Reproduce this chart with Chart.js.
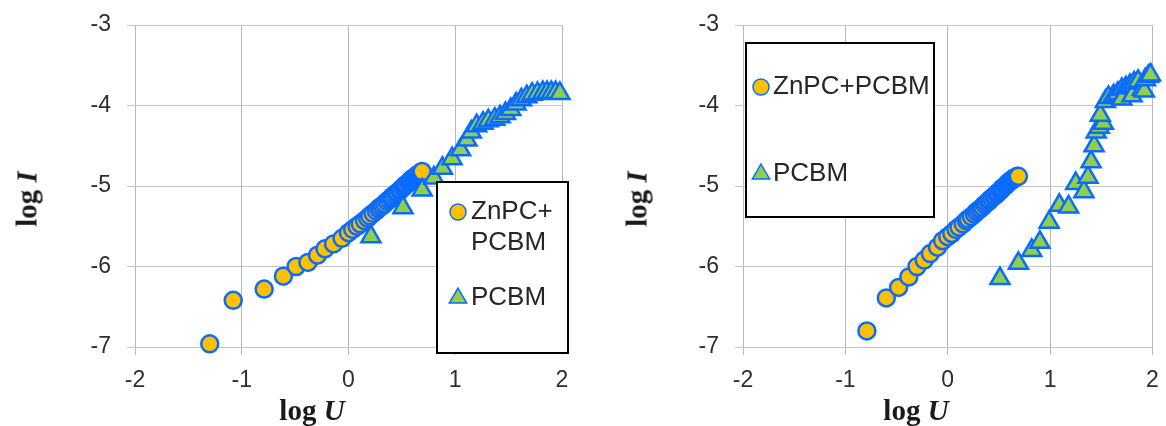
<!DOCTYPE html>
<html>
<head>
<meta charset="utf-8">
<script src="https://cdn.jsdelivr.net/npm/chart.js@4.4.0/dist/chart.umd.min.js"></script>
<style>
  body { margin: 0; background: #fff; width: 1166px; height: 426px; overflow: hidden; position: relative; }
  canvas { position: absolute; top: 0; }
  #leftChart { left: 0; }
  #rightChart { left: 583px; }
  .ttl { position: absolute; font-family: "Liberation Serif", "Times New Roman", serif; font-weight: bold;
         font-size: 29px; color: #1a1a1a; white-space: nowrap; line-height: 1; }
  .xttl { transform: translateX(-50%); }
  .yttl { transform: translate(-50%, -50%) rotate(-90deg); }
</style>
</head>
<body>
<canvas id="leftChart" width="583" height="426"></canvas>
<canvas id="rightChart" width="583" height="426"></canvas>
<div class="ttl yttl" style="left:27px; top:199px;">log <i>I</i></div>
<div class="ttl xttl" style="left:312px; top:396px;">log <i>U</i></div>
<div class="ttl yttl" style="left:637px; top:199px;">log <i>I</i></div>
<div class="ttl xttl" style="left:916px; top:396px;">log <i>U</i></div>
<script>
const seriesNames = ['ZnPC+PCBM', 'PCBM'];
const xTicks = [-2, -1, 0, 1, 2];
const yTicks = [-7, -6, -5, -4, -3];

// left panel, ZnPC+PCBM
const leftBlendU = [-1.30, -1.08, -0.79, -0.61, -0.49, -0.38, -0.29, -0.22, -0.14, -0.06, 0.00,
  0.04, 0.08, 0.11, 0.15, 0.18, 0.20, 0.23, 0.26, 0.28, 0.30, 0.32, 0.34, 0.36, 0.38, 0.40, 0.41,
  0.43, 0.45, 0.46, 0.48, 0.49, 0.51, 0.52, 0.53, 0.54, 0.56, 0.57, 0.58, 0.59, 0.60, 0.61, 0.62,
  0.63, 0.64, 0.65, 0.66, 0.67, 0.68, 0.69];
const leftBlendI = [-6.96, -6.42, -6.28, -6.12, -6.00, -5.95, -5.86, -5.78, -5.72, -5.65, -5.58,
  -5.54, -5.50, -5.47, -5.43, -5.40, -5.37, -5.34, -5.31, -5.28, -5.26, -5.24, -5.22, -5.19, -5.17, -5.15, -5.13,
  -5.11, -5.09, -5.08, -5.06, -5.04, -5.02, -5.01, -4.99, -4.98, -4.96, -4.95, -4.93, -4.92, -4.91, -4.90, -4.89,
  -4.88, -4.87, -4.86, -4.85, -4.84, -4.83, -4.82];

// left panel, PCBM
const leftPcbmU = [0.21, 0.51, 0.69, 0.80, 0.88, 0.97, 1.05, 1.11, 1.15, 1.20, 1.26, 1.31, 1.37,
  1.42, 1.47, 1.52, 1.57, 1.62, 1.67, 1.72, 1.77, 1.82, 1.86, 1.90, 1.94, 1.98];
const leftPcbmI = [-5.63, -5.27, -5.05, -4.90, -4.78, -4.66, -4.55, -4.43, -4.33, -4.25, -4.22, -4.19, -4.17,
  -4.14, -4.10, -4.05, -3.98, -3.93, -3.89, -3.86, -3.85, -3.84, -3.84, -3.84, -3.84, -3.85];

// right panel, ZnPC+PCBM
const rightBlendU = [-0.79, -0.60, -0.48, -0.38, -0.30, -0.23, -0.17, -0.10, -0.05, 0.00,
  0.04, 0.08, 0.11, 0.15, 0.18, 0.20, 0.23, 0.26, 0.28, 0.30, 0.32, 0.34, 0.36, 0.38, 0.40, 0.41,
  0.43, 0.45, 0.46, 0.48, 0.49, 0.51, 0.52, 0.53, 0.54, 0.56, 0.57, 0.58, 0.59, 0.60, 0.61, 0.62,
  0.63, 0.64, 0.65, 0.66, 0.67, 0.68, 0.69];
const rightBlendI = [-6.80, -6.39, -6.26, -6.13, -6.00, -5.92, -5.84, -5.76, -5.68, -5.63,
  -5.59, -5.54, -5.51, -5.47, -5.43, -5.41, -5.38, -5.35, -5.32, -5.30, -5.28, -5.26, -5.23, -5.21, -5.19, -5.17,
  -5.15, -5.13, -5.12, -5.10, -5.08, -5.06, -5.05, -5.03, -5.02, -5.00, -4.99, -4.97, -4.96, -4.95, -4.94, -4.93,
  -4.92, -4.91, -4.90, -4.90, -4.89, -4.88, -4.88];

// right panel, PCBM
const rightPcbmU = [0.51, 0.69, 0.82, 0.90, 0.99, 1.09, 1.18, 1.25, 1.33, 1.37, 1.40, 1.43, 1.45,
  1.48, 1.52, 1.49, 1.54, 1.57, 1.62, 1.66, 1.70, 1.70, 1.74, 1.78, 1.80, 1.82, 1.86, 1.90, 1.92,
  1.93, 1.96, 1.98];
const rightPcbmI = [-6.15, -5.96, -5.80, -5.70, -5.45, -5.24, -5.26, -4.97, -5.07, -4.89, -4.70, -4.50, -4.33,
  -4.27, -4.22, -4.12, -3.95, -3.90, -3.88, -3.85, -3.80, -3.92, -3.78, -3.75, -3.88, -3.72, -3.70, -3.80, -3.82,
  -3.68, -3.64, -3.62];

const BLUE = '#0a6cff';
const GOLD = '#ffc000';
const GREEN = '#8fcf4c';

function pairs(xs, ys) {
  return xs.map((x, i) => ({ x: x, y: ys[i] }));
}

function markerPath(ctx, style, x, y, r) {
  ctx.beginPath();
  if (style === 'triangle') {
    ctx.moveTo(x, y - r);
    ctx.lineTo(x + 0.866 * r, y + 0.5 * r);
    ctx.lineTo(x - 0.866 * r, y + 0.5 * r);
    ctx.closePath();
  } else {
    ctx.arc(x, y, r, 0, Math.PI * 2);
  }
}

// framed legend drawn at a fixed spot inside the plot
const boxLegend = {
  id: 'boxLegend',
  afterDraw(chart, args, opts) {
    const ctx = chart.ctx;
    ctx.save();
    ctx.fillStyle = '#fff';
    ctx.fillRect(opts.left, opts.top, opts.width, opts.height);
    ctx.lineWidth = 2;
    ctx.strokeStyle = '#000';
    ctx.strokeRect(opts.left, opts.top, opts.width, opts.height);
    ctx.font = '26px "Liberation Sans", Arial, sans-serif';
    ctx.textBaseline = 'middle';
    opts.entries.forEach((entry, i) => {
      const ds = chart.data.datasets[i];
      markerPath(ctx, ds.pointStyle, opts.markerX, entry.y, entry.r);
      ctx.fillStyle = ds.backgroundColor;
      ctx.fill();
      ctx.lineWidth = 1.5;
      ctx.strokeStyle = ds.borderColor;
      ctx.stroke();
      ctx.fillStyle = '#262626';
      entry.lines.forEach((line, k) => {
        ctx.fillText(line, opts.textX, entry.y + k * opts.lineGap);
      });
    });
    ctx.restore();
  }
};

// keep the plot area fixed: labels may hang over the layout padding
function noLabelMargins(scale) {
  scale.paddingLeft = 0;
  scale.paddingRight = 0;
  scale.paddingTop = 0;
  scale.paddingBottom = 0;
}

function makeChart(id, blend, pcbm, yWidth, padRight, legend) {
  const tickFont = { family: '"Liberation Sans", Arial, sans-serif', size: 23 };
  return new Chart(document.getElementById(id), {
    type: 'scatter',
    data: {
      datasets: [
        {
          label: seriesNames[0],
          data: blend,
          pointStyle: 'circle',
          pointRadius: 8.5,
          borderWidth: 2.5,
          backgroundColor: GOLD,
          borderColor: BLUE,
          clip: false,
          order: 2
        },
        {
          label: seriesNames[1],
          data: pcbm,
          pointStyle: 'triangle',
          pointRadius: 11,
          borderWidth: 2.5,
          backgroundColor: GREEN,
          borderColor: BLUE,
          clip: false,
          order: 1
        }
      ]
    },
    options: {
      responsive: false,
      animation: false,
      layout: { padding: { top: 25, right: padRight, left: 0, bottom: 0 } },
      plugins: {
        legend: { display: false },
        tooltip: { enabled: false },
        boxLegend: legend
      },
      scales: {
        x: {
          type: 'linear',
          min: xTicks[0],
          max: xTicks[xTicks.length - 1],
          afterBuildTicks: (scale) => { scale.ticks = xTicks.map(v => ({ value: v })); },
          afterFit: (scale) => { scale.height = 79; noLabelMargins(scale); },
          grid: { color: '#b8b8b8', lineWidth: 1, tickLength: 8 },
          border: { display: false },
          ticks: { font: tickFont, color: '#2e2e2e', padding: 12 }
        },
        y: {
          type: 'linear',
          min: yTicks[0],
          max: yTicks[yTicks.length - 1],
          afterBuildTicks: (scale) => { scale.ticks = yTicks.map(v => ({ value: v })); },
          afterFit: (scale) => { scale.width = yWidth; noLabelMargins(scale); },
          grid: { color: '#c4c4c4', lineWidth: 1, tickLength: 8 },
          border: { display: false },
          ticks: { font: tickFont, color: '#2e2e2e', padding: 16 }
        }
      }
    },
    plugins: [boxLegend]
  });
}

makeChart('leftChart', pairs(leftBlendU, leftBlendI), pairs(leftPcbmU, leftPcbmI), 135, 21, {
  left: 437, top: 182, width: 131, height: 171,
  markerX: 458, textX: 471, lineGap: 31,
  entries: [
    { lines: ['ZnPC+', 'PCBM'], y: 212, r: 8 },
    { lines: [seriesNames[1]], y: 298, r: 10 }
  ]
});

makeChart('rightChart', pairs(rightBlendU, rightBlendI), pairs(rightPcbmU, rightPcbmI), 160, 9, {
  left: 163, top: 43, width: 188, height: 174,
  markerX: 178, textX: 190, lineGap: 31,
  entries: [
    { lines: [seriesNames[0]], y: 87, r: 8 },
    { lines: [seriesNames[1]], y: 174, r: 10 }
  ]
});
</script>
</body>
</html>
